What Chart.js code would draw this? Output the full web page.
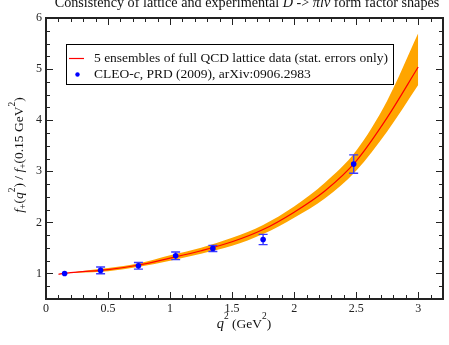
<!DOCTYPE html>
<html><head><meta charset="utf-8">
<script src="https://cdn.jsdelivr.net/npm/chart.js@4.4.1/dist/chart.umd.min.js"></script>
<style>html,body{margin:0;padding:0;background:#fff;}canvas{display:block;}</style>
</head><body>
<canvas id="c" width="449" height="345"></canvas>
<script>
// ---- data ----
const qCurve = [0.1, 0.15, 0.25, 0.5, 0.75, 1.0, 1.25, 1.5, 1.75, 2.0, 2.25, 2.5, 2.75, 3.0];
const fCurve = [0.985, 1.0, 1.025, 1.075, 1.165, 1.30, 1.445, 1.62, 1.86, 2.2, 2.62, 3.2, 4.05, 5.04];
const fUpper = [0.985, 1.0, 1.035, 1.105, 1.20, 1.355, 1.505, 1.70, 1.95, 2.31, 2.78, 3.40, 4.38, 5.70];
const fLower = [0.985, 1.0, 1.015, 1.045, 1.13, 1.25, 1.385, 1.54, 1.77, 2.09, 2.47, 3.01, 3.78, 4.69];

const qData = [0.15, 0.44, 0.745, 1.045, 1.345, 1.75, 2.48];
const fData = [1.0, 1.06, 1.15, 1.345, 1.49, 1.665, 3.14];
const fErr  = [0, 0.065, 0.065, 0.075, 0.06, 0.1, 0.18];

const xTicks = [0, 0.5, 1, 1.5, 2, 2.5, 3];
const yTicks = [1, 2, 3, 4, 5, 6];
const legendLabels = ["5 ensembles of full QCD lattice data (stat. errors only)", "CLEO-c, PRD (2009), arXiv:0906.2983"];

// ---- styling ----
const FAM = '"Liberation Serif", "DejaVu Serif", serif';
const INK = '#222';

function pts(xs, ys) { return xs.map((x, i) => ({x: x, y: ys[i]})); }

function font(seg, base) {
  return (seg.italic ? 'italic ' : '') + (seg.size || base) + 'px ' + FAM;
}
function drawRich(ctx, segs, cx, y, base, align) {
  let widths = segs.map(s => { ctx.font = font(s, base); return ctx.measureText(s.t).width; });
  let total = widths.reduce((a, b) => a + b, 0);
  let x = align === 'left' ? cx : cx - total / 2;
  ctx.textAlign = 'left';
  ctx.textBaseline = 'alphabetic';
  segs.forEach((s, i) => {
    ctx.font = font(s, base);
    ctx.fillText(s.t, x, y + (s.dy || 0));
    x += widths[i];
  });
  return total;
}

const decor = {
  id: 'decor',
  beforeDatasetDraw(chart, args) {
    if (args.index !== 3) return;
    const ctx = chart.ctx, xs = chart.scales.x, ys = chart.scales.y;
    ctx.save();
    ctx.strokeStyle = '#3a3aff';
    ctx.lineWidth = 1.4;
    qData.forEach((q, i) => {
      if (!fErr[i]) return;
      const px = xs.getPixelForValue(q);
      const y1 = ys.getPixelForValue(fData[i] - fErr[i]);
      const y2 = ys.getPixelForValue(fData[i] + fErr[i]);
      ctx.beginPath();
      ctx.moveTo(px, y1); ctx.lineTo(px, y2);
      ctx.moveTo(px - 4.5, y1); ctx.lineTo(px + 4.5, y1);
      ctx.moveTo(px - 4.5, y2); ctx.lineTo(px + 4.5, y2);
      ctx.stroke();
    });
    ctx.restore();
  },
  afterDraw(chart) {
    const ctx = chart.ctx, a = chart.chartArea, xs = chart.scales.x, ys = chart.scales.y;
    ctx.save();
    // ticks (inward, mirrored)
    ctx.strokeStyle = INK;
    ctx.lineWidth = 1;
    ctx.beginPath();
    for (let k = 0; k <= 32; k++) {
      const v = k / 10;
      const px = Math.round(xs.getPixelForValue(v)) + 0.5;
      const len = (k % 5 === 0) ? 7 : 4;
      ctx.moveTo(px, a.bottom); ctx.lineTo(px, a.bottom - len);
      ctx.moveTo(px, a.top); ctx.lineTo(px, a.top + len);
    }
    for (let k = 2; k <= 24; k++) {
      const v = k / 4;
      const py = Math.round(ys.getPixelForValue(v)) + 0.5;
      const len = (k % 4 === 0) ? 7 : 4;
      ctx.moveTo(a.left, py); ctx.lineTo(a.left + len, py);
      ctx.moveTo(a.right, py); ctx.lineTo(a.right - len, py);
    }
    ctx.stroke();
    // frame
    ctx.lineWidth = 2;
    ctx.strokeRect(a.left, a.top, a.right - a.left, a.bottom - a.top);

    // legend
    const lx = 66, ly = 44, lw = 327, lh = 40;
    ctx.fillStyle = '#fff';
    ctx.fillRect(lx, ly, lw, lh);
    ctx.lineWidth = 1;
    ctx.strokeStyle = '#000';
    ctx.strokeRect(lx + 0.5, ly + 0.5, lw, lh);
    ctx.strokeStyle = '#ff0000';
    ctx.lineWidth = 1.2;
    ctx.beginPath(); ctx.moveTo(69, 58.5); ctx.lineTo(84, 58.5); ctx.stroke();
    ctx.fillStyle = '#0000ff';
    ctx.beginPath(); ctx.arc(77.5, 74.5, 2.2, 0, Math.PI * 2); ctx.fill();
    ctx.fillStyle = '#111';
    drawRich(ctx, [{t: legendLabels[0]}], 94, 62, 13.5, 'left');
    const parts = legendLabels[1].split('-c');
    drawRich(ctx, [{t: parts[0] + '-'}, {t: 'c', italic: true}, {t: parts[1]}], 94, 78, 13.5, 'left');

    // title
    ctx.fillStyle = '#111';
    drawRich(ctx, [
      {t: 'Consistency of lattice and experimental '}, {t: 'D', italic: true},
      {t: ' -> '}, {t: '\u03c0l\u03bd', italic: true}, {t: ' form factor shapes'}
    ], 247, 7, 14.2);

    // x-axis title
    drawRich(ctx, [
      {t: 'q', italic: true, size: 14.5}, {t: '2', size: 9.5, dy: -9}, {t: ' (GeV'}, {t: '2', size: 9.5, dy: -9}, {t: ')'}
    ], 244, 328, 13.5);

    // y-axis title
    ctx.translate(23, 155);
    ctx.rotate(-Math.PI / 2);
    drawRich(ctx, [
      {t: 'f', italic: true}, {t: '+', size: 9.5, dy: 3}, {t: '('}, {t: 'q', italic: true}, {t: '2', size: 9.5, dy: -8},
      {t: ') / '}, {t: 'f', italic: true}, {t: '+', size: 9.5, dy: 3}, {t: '(0.15 GeV'}, {t: '2', size: 9.5, dy: -8}, {t: ')'}
    ], 0, 0, 13.5);
    ctx.restore();
  }
};

new Chart(document.getElementById('c'), {
  type: 'scatter',
  data: {
    datasets: [
      { data: pts(qCurve, fUpper), showLine: true, fill: '+1', backgroundColor: '#ffa500',
        borderWidth: 0, borderColor: 'rgba(0,0,0,0)', pointRadius: 0, cubicInterpolationMode: 'monotone', order: 4 },
      { data: pts(qCurve, fLower), showLine: true, fill: false, borderWidth: 0, borderColor: 'rgba(0,0,0,0)',
        pointRadius: 0, cubicInterpolationMode: 'monotone', order: 3 },
      { data: pts(qCurve, fCurve), showLine: true, fill: false, borderColor: '#ff0000', borderWidth: 1.2,
        pointRadius: 0, cubicInterpolationMode: 'monotone', order: 2 },
      { data: pts(qData, fData), showLine: false, pointRadius: 2.8, pointBackgroundColor: '#0000ff',
        pointBorderColor: '#0000ff', pointBorderWidth: 0, order: 1 }
    ]
  },
  options: {
    responsive: false,
    animation: false,
    devicePixelRatio: 1,
    layout: { padding: { top: 18, right: 6, left: 0, bottom: 0 } },
    plugins: { legend: { display: false }, tooltip: { enabled: false }, title: { display: false } },
    scales: {
      x: {
        type: 'linear', min: 0, max: 3.2,
        grid: { display: false, drawTicks: false }, border: { display: false },
        afterBuildTicks: s => { s.ticks = xTicks.map(v => ({value: v})); },
        afterFit: s => { s.height = 46; },
        ticks: { font: { family: FAM, size: 12 }, color: INK, padding: 3, maxRotation: 0, autoSkip: false,
                 callback: v => String(v) }
      },
      y: {
        type: 'linear', min: 0.5, max: 6,
        grid: { display: false, drawTicks: false }, border: { display: false },
        afterBuildTicks: s => { s.ticks = yTicks.map(v => ({value: v})); },
        afterFit: s => { s.width = 46; },
        ticks: { font: { family: FAM, size: 12 }, color: INK, padding: 4, autoSkip: false,
                 callback: v => String(v) }
      }
    }
  },
  plugins: [decor]
});
</script>
</body></html>
